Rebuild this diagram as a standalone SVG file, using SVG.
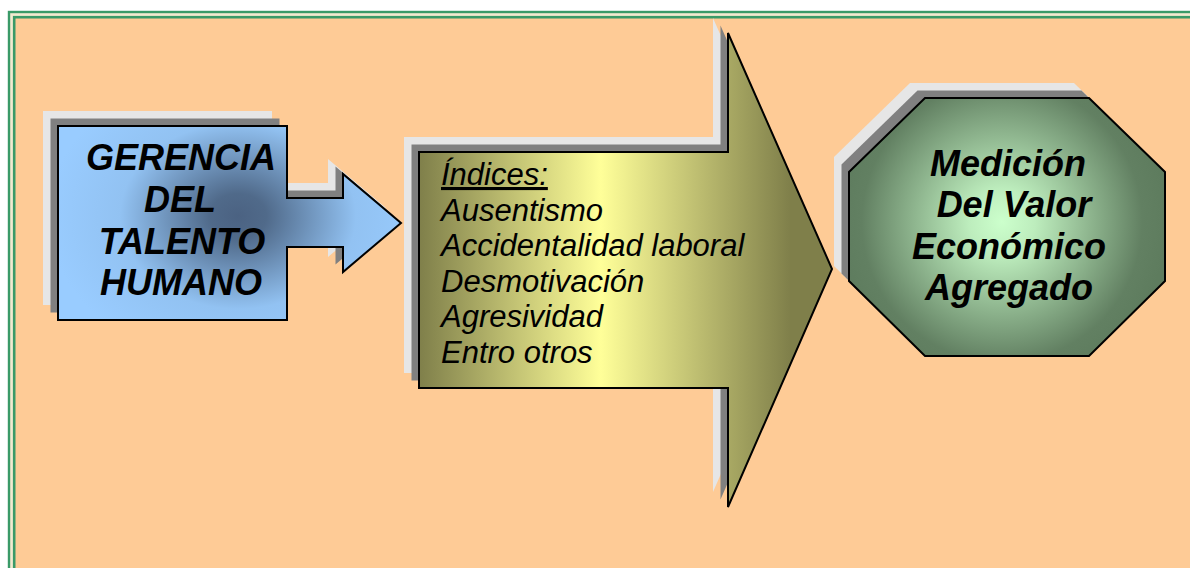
<svg xmlns="http://www.w3.org/2000/svg" width="1190" height="568" viewBox="0 0 1190 568">
<defs>
<style>
.hl{fill:#E6E6E6}
.hd{fill:#808080}
.edge{stroke:#000;stroke-width:2;stroke-linejoin:miter}
.bt{font-family:"Liberation Sans",Arial,sans-serif;font-weight:bold;font-style:italic;font-size:36px;fill:#000;text-anchor:middle}
.it{font-family:"Liberation Sans",Arial,sans-serif;font-style:italic;font-size:31px;fill:#000}
</style>
<radialGradient id="gBlue" gradientUnits="userSpaceOnUse" cx="0" cy="0" r="1" gradientTransform="translate(238,216) scale(190,150)">
<stop offset="0" stop-color="#4B6282"/>
<stop offset="0.15" stop-color="#506A8A"/>
<stop offset="0.62" stop-color="#92C2F2"/>
<stop offset="1" stop-color="#99CCFF"/>
</radialGradient>
<linearGradient id="gOlive" gradientUnits="userSpaceOnUse" x1="419" y1="0" x2="832" y2="0">
<stop offset="0" stop-color="#7F7F4A"/>
<stop offset="0.44" stop-color="#FFFF99"/>
<stop offset="0.9" stop-color="#7F7F4A"/>
<stop offset="1" stop-color="#7F7F4A"/>
</linearGradient>
<radialGradient id="gGreen" gradientUnits="userSpaceOnUse" cx="1002" cy="222" r="165">
<stop offset="0" stop-color="#CCFFCC"/>
<stop offset="0.2" stop-color="#BDEDBD"/>
<stop offset="0.85" stop-color="#628062"/>
<stop offset="1" stop-color="#5E7C5E"/>
</radialGradient>
<path id="pLeft" d="M58,126 H287 V198 H343 V174 L401,223 L343,272 V247 H287 V320 H58 Z"/>
<path id="pMid" d="M419,152 H728 V33 L832,269 L728,507 V388 H419 Z"/>
<path id="pOct" d="M925,98 H1089 L1165,172 V281 L1089,356 H925 L849,281 V172 Z"/>
</defs>
<rect width="1190" height="568" fill="#FFFFFF"/>
<rect x="9" y="12" width="1200" height="600" fill="#F3EAD0" stroke="#3A9A68" stroke-width="2.4"/>
<rect x="14.2" y="17.2" width="1200" height="600" fill="#FECB96" stroke="#3A9A68" stroke-width="2.6"/>

<g id="node-gerencia">
<use href="#pLeft" class="hl" transform="translate(-15,-15)"/>
<use href="#pLeft" class="hd" transform="translate(-7.5,-7.5)"/>
<use href="#pLeft" class="edge" fill="url(#gBlue)"/>
<text class="bt" x="181" y="170">GERENCIA</text>
<text class="bt" x="180" y="212">DEL</text>
<text class="bt" x="182" y="254">TALENTO</text>
<text class="bt" x="181" y="295">HUMANO</text>
</g>

<g id="node-indices">
<use href="#pMid" class="hl" transform="translate(-15,-15)"/>
<use href="#pMid" class="hd" transform="translate(-7.5,-7.5)"/>
<use href="#pMid" class="edge" fill="url(#gOlive)"/>
<text class="it" x="441" y="185" text-decoration="underline">Índices:</text>
<text class="it" x="441" y="221">Ausentismo</text>
<text class="it" x="441" y="256">Accidentalidad laboral</text>
<text class="it" x="441" y="292">Desmotivación</text>
<text class="it" x="441" y="327">Agresividad</text>
<text class="it" x="441" y="363">Entro otros</text>
</g>

<g id="node-medicion">
<use href="#pOct" class="hl" transform="translate(-15,-15)"/>
<use href="#pOct" class="hd" transform="translate(-7.5,-7.5)"/>
<use href="#pOct" class="edge" fill="url(#gGreen)"/>
<text class="bt" x="1008" y="176">Medición</text>
<text class="bt" x="1014" y="217">Del Valor</text>
<text class="bt" x="1009" y="259">Económico</text>
<text class="bt" x="1009" y="300">Agregado</text>
</g>

<g id="connectors"></g>
</svg>
